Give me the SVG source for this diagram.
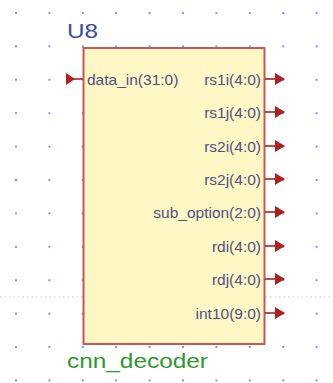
<svg xmlns="http://www.w3.org/2000/svg" width="333" height="383" viewBox="0 0 333 383">
<style>
.dot{fill:#5050f0}
.pin{stroke:#b02020;stroke-width:1.6;fill:none}
.tri{fill:#b02020}
.lbl{font-family:"Liberation Sans",Arial,sans-serif;font-size:15.5px;fill:#50508a}
</style>
<defs>
<pattern id="grid" x="0" y="0" width="33.4" height="33.4" patternUnits="userSpaceOnUse" patternTransform="translate(16,13)">
<rect x="-0.8" y="-0.8" width="1.6" height="1.6" class="dot"/>
<rect x="32.6" y="-0.8" width="1.6" height="1.6" class="dot"/>
<rect x="-0.8" y="32.6" width="1.6" height="1.6" class="dot"/>
<rect x="32.6" y="32.6" width="1.6" height="1.6" class="dot"/>
</pattern>
</defs>
<rect width="333" height="383" fill="#ffffff"/>
<rect width="333" height="383" fill="url(#grid)"/>
<line x1="0" y1="297" x2="333" y2="297" stroke="#c8c8c8" stroke-width="1" stroke-dasharray="1.5,3"/>
<g id="U8">
<rect x="83.5" y="48" width="181" height="296" fill="#fff7c4" stroke="#cc5555" stroke-width="2"/>
<text x="67" y="37.5" font-family="Liberation Sans,Arial,sans-serif" font-size="21" fill="#3848b0" textLength="31" lengthAdjust="spacingAndGlyphs">U8</text>
<text x="67" y="368" font-family="Liberation Sans,Arial,sans-serif" font-size="21" fill="#2a9a2a" textLength="141" lengthAdjust="spacingAndGlyphs">cnn_decoder</text>
<text class="lbl" x="87" y="84.5">data_in(31:0)</text>
<g text-anchor="end">
<text class="lbl" x="261" y="84.5">rs1i(4:0)</text>
<text class="lbl" x="261" y="118">rs1j(4:0)</text>
<text class="lbl" x="261" y="151.5">rs2i(4:0)</text>
<text class="lbl" x="261" y="185">rs2j(4:0)</text>
<text class="lbl" x="261" y="218">sub_option(2:0)</text>
<text class="lbl" x="261" y="251.5">rdi(4:0)</text>
<text class="lbl" x="261" y="285">rdj(4:0)</text>
<text class="lbl" x="261" y="318.5">int10(9:0)</text>
</g>
</g>
<g id="pins">
<line class="pin" x1="66" y1="79" x2="83" y2="79"/>
<polygon class="tri" points="66,73 75,79 66,85"/>
<g id="outs">
<line class="pin" x1="265" y1="79" x2="284" y2="79"/><polygon class="tri" points="275,73 285,79 275,85"/>
<line class="pin" x1="265" y1="112" x2="284" y2="112"/><polygon class="tri" points="275,106 285,112 275,118"/>
<line class="pin" x1="265" y1="146" x2="284" y2="146"/><polygon class="tri" points="275,140 285,146 275,152"/>
<line class="pin" x1="265" y1="179" x2="284" y2="179"/><polygon class="tri" points="275,173 285,179 275,185"/>
<line class="pin" x1="265" y1="212" x2="284" y2="212"/><polygon class="tri" points="275,206 285,212 275,218"/>
<line class="pin" x1="265" y1="246" x2="284" y2="246"/><polygon class="tri" points="275,240 285,246 275,252"/>
<line class="pin" x1="265" y1="279" x2="284" y2="279"/><polygon class="tri" points="275,273 285,279 275,285"/>
<line class="pin" x1="265" y1="313" x2="284" y2="313"/><polygon class="tri" points="275,307 285,313 275,319"/>
</g>
</g>
</svg>
